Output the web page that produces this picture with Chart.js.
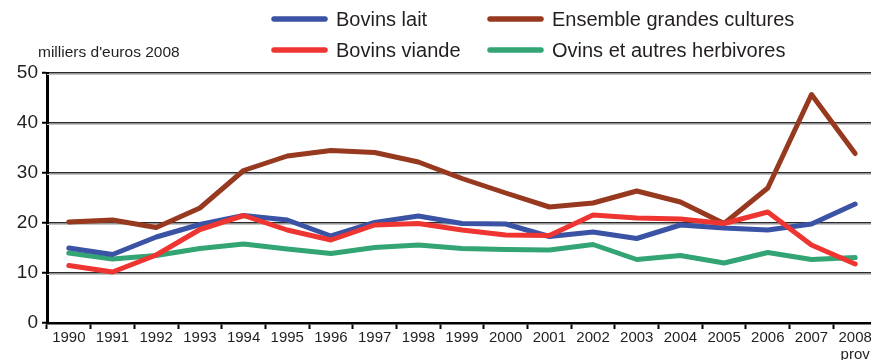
<!DOCTYPE html>
<html>
<head>
<meta charset="utf-8">
<script src="https://cdn.jsdelivr.net/npm/chart.js@4/dist/chart.umd.min.js"></script>
<style>
  html, body { margin: 0; padding: 0; background: #fff; overflow: hidden; width: 871px; height: 360px; }
  canvas { display: block; }
</style>
</head>
<body>
<canvas id="c" width="877" height="360"></canvas>
<script>
// Revenu par exploitation, en milliers d'euros 2008
const years = ['1990', '1991', '1992', '1993', '1994', '1995', '1996', '1997', '1998', '1999',
               '2000', '2001', '2002', '2003', '2004', '2005', '2006', '2007', ['2008', 'prov']];
const bovinsLait      = [15.0, 13.7, 17.2, 19.7, 21.5, 20.6, 17.4, 20.1, 21.4, 19.9, 19.8, 17.3, 18.2, 16.9, 19.6, 19.0, 18.6, 19.8, 23.8];
const bovinsViande    = [11.5, 10.2, 13.6, 18.7, 21.5, 18.6, 16.6, 19.6, 19.9, 18.6, 17.6, 17.5, 21.6, 21.0, 20.8, 19.9, 22.2, 15.6, 11.8];
const grandesCultures = [20.2, 20.6, 19.1, 23.0, 30.5, 33.4, 34.5, 34.1, 32.2, 28.9, 26.0, 23.2, 24.0, 26.4, 24.2, 19.9, 27.0, 45.7, 33.9];
const ovins           = [14.0, 12.8, 13.5, 14.9, 15.8, 14.8, 13.9, 15.1, 15.6, 14.9, 14.7, 14.6, 15.7, 12.7, 13.5, 12.0, 14.1, 12.7, 13.1];
const yTicks = [0, 10, 20, 30, 40, 50];
const unitLabel = "milliers d'euros 2008";

const FONT = "'Liberation Sans', Arial, Helvetica, sans-serif";
const INK = '#231f20';

// Two-by-two legend with line samples, drawn above the plot
const gridLegend = {
  id: 'gridLegend',
  afterDraw(chart) {
    const ctx = chart.ctx;
    const cols = [272, 488];
    const rows = [19, 50];
    const sample = 55;
    const order = chart.options.plugins.gridLegend.order;
    ctx.save();
    ctx.font = '20px ' + FONT;
    ctx.textBaseline = 'middle';
    ctx.textAlign = 'left';
    order.forEach((dsIndex, i) => {
      const ds = chart.data.datasets[dsIndex];
      const x = cols[i % 2];
      const y = rows[Math.floor(i / 2)];
      ctx.strokeStyle = ds.borderColor;
      ctx.lineWidth = 5.5;
      ctx.lineCap = 'round';
      ctx.beginPath();
      ctx.moveTo(x + 2, y);
      ctx.lineTo(x + sample - 2, y);
      ctx.stroke();
      ctx.fillStyle = INK;
      ctx.fillText(ds.label, x + sample + 9, y + 1);
    });
    // unit caption above the value axis
    ctx.font = '15.5px ' + FONT;
    ctx.fillText(unitLabel, 38, 53);
    ctx.restore();
  }
};

// light shading under each horizontal rule
const gridShade = {
  id: 'gridShade',
  beforeDatasetsDraw(chart) {
    const {ctx, chartArea, scales} = chart;
    ctx.save();
    ctx.strokeStyle = '#c4c4c4';
    ctx.lineWidth = 1;
    yTicks.forEach(v => {
      if (v === 0) return;
      const y = Math.round(scales.y.getPixelForValue(v)) + 1.5;
      ctx.beginPath();
      ctx.moveTo(chartArea.left, y);
      ctx.lineTo(chartArea.right, y);
      ctx.stroke();
    });
    ctx.restore();
  }
};

const lineStyle = { borderWidth: 5, pointRadius: 0, pointHoverRadius: 0, tension: 0,
                    borderJoinStyle: 'round', borderCapStyle: 'round', fill: false };

new Chart(document.getElementById('c'), {
  type: 'line',
  data: {
    labels: years,
    datasets: [
      { label: 'Bovins lait', data: bovinsLait, borderColor: '#3b53a4', order: 2, ...lineStyle },
      { label: 'Ensemble grandes cultures', data: grandesCultures, borderColor: '#97391f', order: 1, ...lineStyle },
      { label: 'Bovins viande', data: bovinsViande, borderColor: '#ee3531', order: 0, ...lineStyle },
      { label: 'Ovins et autres herbivores', data: ovins, borderColor: '#33a473', order: 3, ...lineStyle }
    ]
  },
  options: {
    responsive: false,
    animation: false,
    events: [],
    layout: { padding: { top: 73, left: 0, right: 0, bottom: 0 } },
    plugins: {
      legend: { display: false },
      tooltip: { enabled: false },
      gridLegend: { order: [0, 1, 2, 3] }
    },
    scales: {
      x: {
        type: 'category',
        offset: true,
        grid: { display: true, drawOnChartArea: false, drawTicks: true, offset: true,
                tickLength: 6, tickWidth: 2, tickColor: '#000' },
        border: { display: true, color: '#000', width: 2.5 },
        ticks: { color: INK, font: { family: FONT, size: 15, lineHeight: 1.1 },
                 padding: 1, maxRotation: 0, autoSkip: false },
        afterFit(scale) { scale.height = 37; }
      },
      y: {
        min: 0, max: 50,
        afterBuildTicks(scale) { scale.ticks = yTicks.map(v => ({ value: v })); },
        grid: { color: '#2a2a2a', lineWidth: 1.5, drawTicks: true, tickLength: 5,
                tickColor: '#000', tickWidth: 2 },
        border: { display: true, color: '#000', width: 3 },
        ticks: { color: INK, font: { family: FONT, size: 19 }, padding: 4 },
        afterFit(scale) { scale.width = 47; }
      }
    }
  },
  plugins: [gridShade, gridLegend]
});
</script>
</body>
</html>
